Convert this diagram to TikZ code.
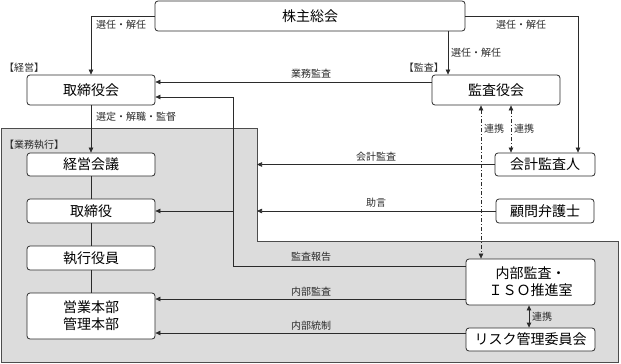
\documentclass[tikz,border=0pt]{standalone}
\usepackage{fontspec}
\setmainfont{Noto Sans CJK JP}
\usetikzlibrary{arrows.meta, calc}
\definecolor{govgrey}{HTML}{DCDCDC}
\definecolor{govline}{HTML}{2B2B2B}
\definecolor{govframe}{HTML}{4D4D4D}
\tikzset{
  orgbox/.style={draw=govline, line width=0.8pt, rounded corners=3pt, fill=white,
    minimum width=128pt, minimum height=24pt, inner sep=0pt, align=center,
    font=\fontsize{14}{17}\selectfont},
  rel/.style={draw=govline, line width=0.6pt, -{Triangle[length=5pt,width=4.5pt]}},
  plain/.style={draw=govline, line width=0.6pt},
  linkdash/.style={draw=govline, line width=0.6pt,
    dash pattern=on 4pt off 2pt on 1pt off 2pt,
    {Triangle[length=5pt,width=4.5pt]}-{Triangle[length=5pt,width=4.5pt]}},
  linksolid/.style={draw=govline, line width=0.8pt,
    {Triangle[length=5pt,width=4.5pt]}-{Triangle[length=5pt,width=4.5pt]}},
  lbl/.style={font=\fontsize{10}{12}\selectfont, text=govline, inner sep=1pt},
}
\begin{document}
\begin{tikzpicture}[x=1pt, y=-1pt]
  \useasboundingbox (0,0) rectangle (621,364);
  % business execution area
  \coordinate (notch) at (257,241);
  \draw[govframe, fill=govgrey, line width=0.8pt]
    (1,128) -- (257,128) -- (notch) -- (618,241) -- (618,362) -- (1,362) -- cycle;

  \node[orgbox, minimum width=310pt, minimum height=30pt] (gm) at (310,16) {株主総会};
  \node[orgbox, minimum height=30pt] (bod) at (91,90) {取締役会};
  \node[orgbox, minimum height=30pt] (ksy) at (496,90) {監査役会};
  \node[orgbox, minimum height=23pt] (keiei) at (91,164.5) {経営会議};
  \node[orgbox] (tori) at (91,211) {取締役};
  \node[orgbox] (shikko) at (91,258) {執行役員};
  \node[orgbox, minimum height=46pt] (hq) at (91,316) {営業本部\\管理本部};
  \node[orgbox, minimum width=100pt, minimum height=23pt] (auditor) at (545,164.5) {会計監査人};
  \node[orgbox, minimum width=98pt] (lawyer) at (545,211) {顧問弁護士};
  \node[orgbox, minimum width=129pt, minimum height=46pt] (naibu) at (530.5,282) {内部監査・\\ＩＳＯ推進室};
  \node[orgbox, minimum width=129pt, minimum height=23pt] (risk) at (530.5,339.5) {リスク管理委員会};

  \node[lbl, anchor=west] (lbKeiei) at (3,68) {【経営】};
  \node[lbl, anchor=east] (lbKansa) at (445,68) {【監査】};
  \node[lbl, anchor=west] (lbShikko) at (3,145) {【業務執行】};

  % appointment
  \draw[rel] (gm.west) -| (bod.north);
  \draw[rel] (gm.east) -| ([xshift=33pt]auditor.north);
  \draw[rel] ([xshift=-48pt]ksy.north |- gm.south) -- ([xshift=-48pt]ksy.north);
  \node[lbl, anchor=west] (lbSen1) at (95,25) {選任・解任};
  \node[lbl] (lbSen2) at (521,25) {選任・解任};
  \node[lbl, anchor=west] (lbSen3) at (450,53) {選任・解任};

  \draw[rel] ([yshift=8pt]ksy.west) -- ([yshift=8pt]ksy.west -| bod.east);
  \node[lbl] (lbGyomu) at (311,74) {業務監査};

  \draw[rel] (bod.south) -- (keiei.north);
  \node[lbl, anchor=west] (lbSentei) at (95,117) {選定・解職・監督};
  \draw[plain] (keiei.south) -- (tori.north);
  \draw[plain] (tori.south) -- (shikko.north);
  \draw[plain] (shikko.south) -- (hq.north);

  % audit report
  \coordinate (hk1) at (233,266);
  \coordinate (hk2) at (233,97);
  \draw[rel] (naibu.west |- hk1) -- (hk1) -- (hk2) -- (bod.east |- hk2);
  \draw[rel] (hk2 |- tori.east) -- (tori.east);
  \node[lbl] (lbHokoku) at (311,257) {監査報告};

  \draw[rel] (auditor.west) -- (auditor.west -| notch);
  \node[lbl] (lbKaikei) at (376,157) {会計監査};
  \draw[rel] (lawyer.west) -- (lawyer.west -| notch);
  \node[lbl] (lbJogen) at (376,203) {助言};

  \draw[rel] ([yshift=-17pt]naibu.west) -- ([yshift=-17pt]naibu.west -| hq.east);
  \node[lbl] (lbNaibu) at (311,292) {内部監査};
  \draw[rel] ([yshift=6.5pt]risk.west) -- ([yshift=6.5pt]risk.west -| hq.east);
  \node[lbl] (lbTosei) at (311,326) {内部統制};

  % cooperation
  \draw[linkdash] ([xshift=15pt]ksy.south) -- ([xshift=15pt]ksy.south |- auditor.north);
  \draw[linkdash] ([xshift=-15pt]ksy.south) -- ([xshift=-15pt]ksy.south |- naibu.north);
  \node[lbl, anchor=west] (lbRenkei1) at (483,129) {連携};
  \node[lbl, anchor=west] (lbRenkei2) at (513,129) {連携};
  \draw[linksolid] ([xshift=-1.5pt]naibu.south) -- ([xshift=-1.5pt]naibu.south |- risk.north);
  \node[lbl, anchor=west] (lbRenkei3) at (531,317) {連携};
\end{tikzpicture}
\end{document}
